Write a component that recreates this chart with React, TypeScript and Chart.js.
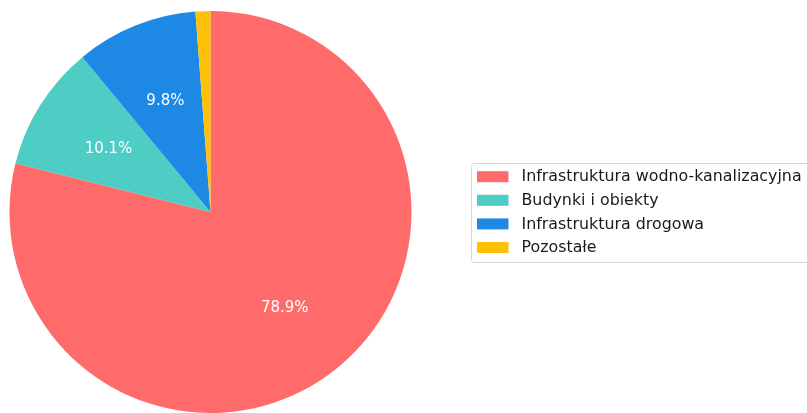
import React, { useEffect, useRef } from "react";
import { Chart, registerables } from "chart.js";

Chart.register(...registerables);

const categories = [
  "Infrastruktura wodno-kanalizacyjna",
  "Budynki i obiekty",
  "Infrastruktura drogowa",
  "Pozostałe",
];
const shares = [78.9, 10.1, 9.8, 1.2];
const colors = ["#FF6B6B", "#4ECDC4", "#1E88E5", "#FFC107"];

const FONT = "'DejaVu Sans', 'Liberation Sans', sans-serif";

const pctLabels = {
  id: "pctLabels",
  afterDatasetsDraw(chart: any) {
    const ctx = chart.ctx;
    const meta = chart.getDatasetMeta(0);
    const data = chart.data.datasets[0].data as number[];
    const total = data.reduce((a, b) => a + b, 0);
    ctx.save();
    ctx.font = `15px ${FONT}`;
    ctx.fillStyle = "#ffffff";
    ctx.textAlign = "center";
    ctx.textBaseline = "middle";
    meta.data.forEach((arc: any, i: number) => {
      const pct = (data[i] / total) * 100;
      if (pct < 3) return;
      const p = arc.getProps(["x", "y", "startAngle", "endAngle", "outerRadius"], true);
      const mid = (p.startAngle + p.endAngle) / 2;
      const r = p.outerRadius * 0.6;
      ctx.fillText(pct.toFixed(1) + "%", p.x + Math.cos(mid) * r, p.y + Math.sin(mid) * r + 1);
    });
    ctx.restore();
  },
};

const boxLegend = {
  id: "boxLegend",
  afterDraw(chart: any) {
    const ctx = chart.ctx;
    const labels = chart.data.labels as string[];
    const bg = chart.data.datasets[0].backgroundColor as string[];
    const x0 = 471;
    const y0 = 163;
    const w = 360;
    const h = 99;
    ctx.save();
    ctx.strokeStyle = "#d6d6d6";
    ctx.lineWidth = 1;
    ctx.fillStyle = "rgba(255,255,255,0.8)";
    ctx.beginPath();
    const rr = 3;
    ctx.moveTo(x0 + 0.5 + rr, y0 + 0.5);
    ctx.lineTo(x0 + 0.5 + w, y0 + 0.5);
    ctx.lineTo(x0 + 0.5 + w, y0 + 0.5 + h);
    ctx.lineTo(x0 + 0.5 + rr, y0 + 0.5 + h);
    ctx.arcTo(x0 + 0.5, y0 + 0.5 + h, x0 + 0.5, y0 + 0.5 + h - rr, rr);
    ctx.lineTo(x0 + 0.5, y0 + 0.5 + rr);
    ctx.arcTo(x0 + 0.5, y0 + 0.5, x0 + 0.5 + rr, y0 + 0.5, rr);
    ctx.closePath();
    ctx.fill();
    ctx.stroke();
    ctx.font = `15.85px ${FONT}`;
    ctx.textBaseline = "middle";
    ctx.textAlign = "left";
    labels.forEach((lab, i) => {
      const cy = 176.7 + i * 23.6;
      ctx.fillStyle = bg[i];
      ctx.fillRect(477, cy - 5.5, 31.5, 11);
      ctx.fillStyle = "#1a1a1a";
      ctx.fillText(lab, 521.5, cy + 0.5);
    });
    ctx.restore();
  },
};

export default function App() {
  const ref = useRef<HTMLCanvasElement>(null);
  useEffect(() => {
    document.body.style.margin = "0";
    const chart = new Chart(ref.current as HTMLCanvasElement, {
      type: "pie",
      data: {
        labels: categories,
        datasets: [
          {
            data: shares,
            backgroundColor: colors,
            borderWidth: 0,
          },
        ],
      },
      options: {
        animation: false,
        responsive: false,
        layout: { padding: { left: 9, right: 395, top: 11, bottom: 0 } },
        plugins: {
          legend: { display: false },
          tooltip: { enabled: false },
        },
      },
      plugins: [pctLabels, boxLegend],
    });
    return () => chart.destroy();
  }, []);
  return <canvas ref={ref} width={807} height={413} style={{ display: "block" }} />;
}
